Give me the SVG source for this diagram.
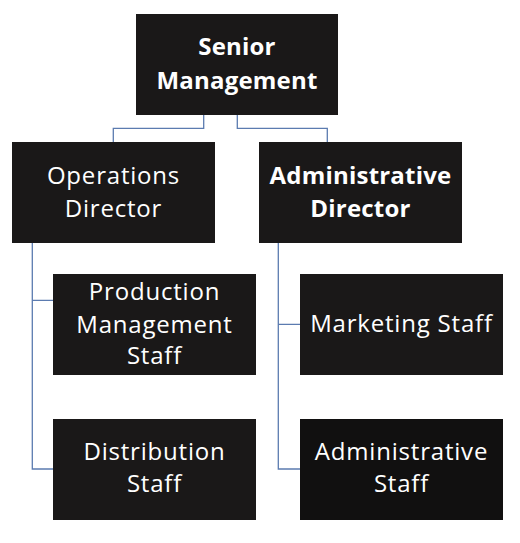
<svg xmlns="http://www.w3.org/2000/svg" width="520" height="543" viewBox="0 0 520 543">
<style>
.box{fill:#1a1818}
.t{font-family:"Open Sans","Noto Sans","Liberation Sans",sans-serif;font-size:24px;letter-spacing:0.8px;fill:#ffffff;text-anchor:middle}
.b{font-weight:bold;letter-spacing:0.2px}
.c{fill:none;stroke:#5b7bb0;stroke-width:1.3}
</style>
<rect width="520" height="543" fill="#ffffff"/>
<g id="connectors">
<path class="c" d="M203.7,115V128.3H113.3V142"/>
<path class="c" d="M237.3,115V128.3H327.3V142"/>
<path class="c" d="M32.3,243V469H53M32.3,300.3H53"/>
<path class="c" d="M278.3,243V469H300M278.3,324.3H300"/>
</g>
<g id="senior">
<rect class="box" x="136" y="14" width="202" height="101"/>
<text class="t b" x="237" y="55">Senior</text>
<text class="t b" x="237" y="89">Management</text>
</g>
<g id="operations">
<rect class="box" x="12" y="142" width="203" height="101"/>
<text class="t" x="113.5" y="184">Operations</text>
<text class="t" x="113.5" y="217">Director</text>
</g>
<g id="administrative-director">
<rect class="box" x="259" y="142" width="203" height="101"/>
<text class="t b" x="360.5" y="184">Administrative</text>
<text class="t b" x="360.5" y="217">Director</text>
</g>
<g id="production">
<rect class="box" x="53" y="274" width="203" height="101"/>
<text class="t" x="154.5" y="300">Production</text>
<text class="t" x="154.5" y="332.5">Management</text>
<text class="t" x="154.5" y="364">Staff</text>
</g>
<g id="distribution">
<rect class="box" x="53" y="419" width="203" height="101"/>
<text class="t" x="154.5" y="460">Distribution</text>
<text class="t" x="154.5" y="492">Staff</text>
</g>
<g id="marketing">
<rect class="box" x="300" y="274" width="203" height="101"/>
<text class="t" x="401.5" y="332">Marketing Staff</text>
</g>
<g id="administrative-staff">
<rect class="box" x="300" y="419" width="203" height="101" style="fill:#111010"/>
<text class="t" x="401.5" y="460">Administrative</text>
<text class="t" x="401.5" y="492">Staff</text>
</g>
</svg>
